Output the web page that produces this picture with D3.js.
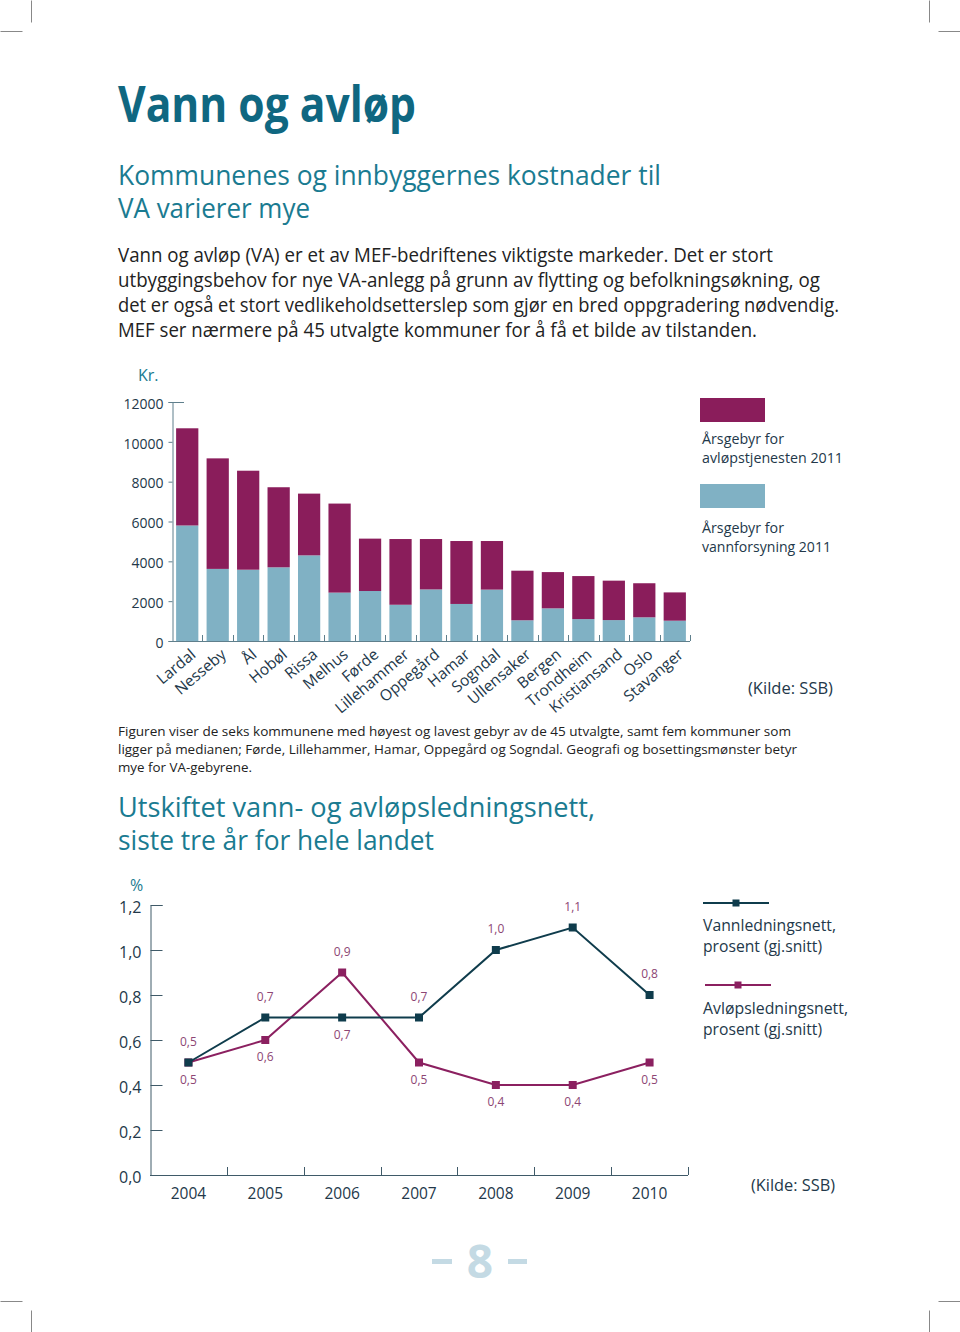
<!DOCTYPE html>
<html><head><meta charset="utf-8">
<script src="https://cdn.jsdelivr.net/npm/d3@7/dist/d3.min.js"></script>
<style>body{margin:0;background:#fff}svg{display:block}</style>
</head><body>
<svg id="page" width="960" height="1332"></svg>
<script>
// ---------- DATA ----------
const kommuner = ["Lardal","Nesseby","Ål","Hobøl","Rissa","Melhus","Førde","Lillehammer","Oppegård","Hamar","Sogndal","Ullensaker","Bergen","Trondheim","Kristiansand","Oslo","Stavanger"];
const vannforsyning = [5800,3620,3580,3700,4300,2430,2510,1820,2590,1860,2580,1040,1640,1100,1050,1190,1020];
const avlopstjenesten = [4880,5550,4970,4020,3100,4470,2630,3300,2530,3160,2440,2490,1820,2160,1980,1710,1420];
const barTicks = [0,2000,4000,6000,8000,10000,12000];

const years = ["2004","2005","2006","2007","2008","2009","2010"];
const vannledning = [0.5,0.7,0.7,0.7,1.0,1.1,0.8];
const avlopsledning = [0.5,0.6,0.9,0.5,0.4,0.4,0.5];
const lineTicks = [0,0.2,0.4,0.6,0.8,1.0,1.2];

// ---------- STYLE ----------
const FONT = "'Open Sans', 'Noto Sans', sans-serif";
const TEAL = "#0f6781", TEAL2 = "#1a7b91";
const PURPLE = "#8a1d5b", BLUE = "#80b1c4";
const DARK = "#0f3c4c", MAG = "#8b2060";
const AXIS = "#5f7f8c", TXT = "#23384a";

const svg = d3.select("#page");
svg.append("rect").attr("width",960).attr("height",1332).attr("fill","#fff");

function txt(x,y,s,o={}){
  const t = svg.append("text").attr("x",x).attr("y",y).text(s)
    .attr("font-family",o.family||FONT).attr("font-size",o.size||16)
    .attr("fill",o.fill||"#1b1b1b").attr("font-weight",o.weight||400)
    .attr("text-anchor",o.anchor||"start");
  if(o.w){ t.attr("textLength",o.w).attr("lengthAdjust","spacingAndGlyphs"); }
  return t;
}

// crop marks
const cm = svg.append("g").attr("stroke","#888").attr("stroke-width",1);
[[31,0,31,22],[0,31,22,31],[929,0,929,22],[938,31,960,31],
 [31,1310,31,1332],[0,1301,22,1301],[929,1310,929,1332],[938,1301,960,1301]]
 .forEach(d=>cm.append("line").attr("x1",d[0]+0.5).attr("y1",d[1]+0.5).attr("x2",d[2]+0.5).attr("y2",d[3]+0.5));

// ---------- TEXT ----------
txt(118,122,"Vann og avløp",{size:50,weight:700,fill:TEAL,w:298});
txt(118,185,"Kommunenes og innbyggernes kostnader til",{size:27.5,fill:TEAL2,w:543});
txt(118,218,"VA varierer mye",{size:27.5,fill:TEAL2,w:192});
const body = [
 ["Vann og avløp (VA) er et av MEF-bedriftenes viktigste markeder. Det er stort",655],
 ["utbyggingsbehov for nye VA-anlegg på grunn av flytting og befolkningsøkning, og",702],
 ["det er også et stort vedlikeholdsetterslep som gjør en bred oppgradering nødvendig.",721],
 ["MEF ser nærmere på 45 utvalgte kommuner for å få et bilde av tilstanden.",639]];
body.forEach((b,i)=>txt(118,262+i*25,b[0],{size:19.5,w:b[1],fill:"#222"}));

const cap = [
 ["Figuren viser de seks kommunene med høyest og lavest gebyr av de 45 utvalgte, samt fem kommuner som",673],
 ["ligger på medianen; Førde, Lillehammer, Hamar, Oppegård og Sogndal. Geografi og bosettingsmønster betyr",679],
 ["mye for VA-gebyrene.",134]];
cap.forEach((b,i)=>txt(118,736+i*18,b[0],{size:13.5,w:b[1],fill:"#222"}));

txt(118,817,"Utskiftet vann- og avløpsledningsnett,",{size:27.5,fill:TEAL2,w:477});
txt(118,850,"siste tre år for hele landet",{size:27.5,fill:TEAL2,w:316});

// page number
svg.append("rect").attr("x",432).attr("y",1259).attr("width",20).attr("height",5).attr("fill","#c4dae4");
svg.append("rect").attr("x",508).attr("y",1259).attr("width",19).attr("height",5).attr("fill","#c4dae4");
txt(480,1278,"8",{size:46,weight:700,fill:"#c4dae4",anchor:"middle"});

// ---------- BAR CHART ----------
const bx = d3.scaleBand().domain(kommuner).range([172,690]).paddingInner(0.27).paddingOuter(0.135);
const by = d3.scaleLinear().domain([0,12000]).range([641,402]);
const stackData = kommuner.map((k,i)=>({k, vann:vannforsyning[i], avlop:avlopstjenesten[i]}));
const series = d3.stack().keys(["vann","avlop"])(stackData);
const colors = {vann:BLUE, avlop:PURPLE};

txt(138,381,"Kr.",{size:16,fill:TEAL2});

// y axis
const gyA = svg.append("g").attr("transform","translate(172.5,0)")
  .call(d3.axisLeft(by).tickValues(barTicks).tickSize(4).tickFormat(d3.format("d")));
gyA.select(".domain").attr("stroke",AXIS);
gyA.selectAll(".tick line").attr("stroke",AXIS);
gyA.selectAll(".tick text").attr("font-family",FONT).attr("font-size",14).attr("fill",TXT).attr("x",-9).attr("dy","0.45em");
svg.append("line").attr("x1",172).attr("x2",184).attr("y1",by(12000)+0.5).attr("y2",by(12000)+0.5).attr("stroke",AXIS);

// bars
svg.append("g").selectAll("g").data(series).join("g").attr("fill",d=>colors[d.key])
  .selectAll("rect").data(d=>d).join("rect")
  .attr("x",d=>bx(d.data.k)).attr("width",bx.bandwidth())
  .attr("y",d=>by(d[1])).attr("height",d=>by(d[0])-by(d[1]));

// x axis
const stepB = bx.step();
svg.append("line").attr("x1",172).attr("x2",690).attr("y1",641.5).attr("y2",641.5).attr("stroke",AXIS);
const bounds = kommuner.map((k,i)=>172+ (i+1)*stepB);
svg.append("g").selectAll("line").data(bounds).join("line")
  .attr("x1",d=>Math.round(d)+0.5).attr("x2",d=>Math.round(d)+0.5).attr("y1",641).attr("y2",635).attr("stroke",AXIS);
svg.append("g").selectAll("text").data(kommuner).join("text")
  .attr("transform",d=>`translate(${bx(d)+bx.bandwidth()/2+6},652) rotate(-40)`)
  .attr("text-anchor","end").attr("dy","0.35em")
  .attr("font-family",FONT).attr("font-size",15.5).attr("fill",TXT).text(d=>d);

// legend
svg.append("rect").attr("x",700).attr("y",398).attr("width",65).attr("height",24).attr("fill",PURPLE);
txt(702,444,"Årsgebyr for",{size:14.5,fill:TXT,w:82});
txt(702,463,"avløpstjenesten 2011",{size:14.5,fill:TXT,w:141});
svg.append("rect").attr("x",700).attr("y",484).attr("width",65).attr("height",24).attr("fill",BLUE);
txt(702,533,"Årsgebyr for",{size:14.5,fill:TXT,w:82});
txt(702,552,"vannforsyning 2011",{size:14.5,fill:TXT,w:129});
txt(748,694,"(Kilde: SSB)",{size:15.5,fill:TXT,w:85});

// ---------- LINE CHART ----------
const lx = d3.scaleBand().domain(years).range([150,688]);
const ly = d3.scaleLinear().domain([0,1.2]).range([1175,905]);
const LAX = "#3f5a68";
const fmt = d => d3.format(".1f")(d).replace(".",",");

txt(130,891,"%",{size:16,fill:TEAL2});
const gl = svg.append("g").attr("transform","translate(150.5,0)")
  .call(d3.axisRight(ly).tickValues(lineTicks).tickSize(12).tickFormat(fmt));
gl.select(".domain").attr("stroke",LAX);
gl.selectAll(".tick line").attr("stroke",LAX);
gl.selectAll(".tick text").attr("font-family",FONT).attr("font-size",16).attr("fill",TXT)
  .attr("x",-9).attr("text-anchor","end").attr("dy","0.45em");
svg.append("line").attr("x1",150).attr("x2",688).attr("y1",1175.5).attr("y2",1175.5).attr("stroke",LAX);
svg.append("g").selectAll("line").data(years).join("line")
  .attr("x1",d=>Math.round(lx(d)+lx.bandwidth())+0.5).attr("x2",d=>Math.round(lx(d)+lx.bandwidth())+0.5)
  .attr("y1",1175).attr("y2",1167).attr("stroke",LAX);
svg.append("g").selectAll("text").data(years).join("text")
  .attr("x",d=>lx(d)+lx.bandwidth()/2).attr("y",1199).attr("text-anchor","middle")
  .attr("font-family",FONT).attr("font-size",15.5).attr("fill",TXT).text(d=>d);

const cx = d=>lx(d)+lx.bandwidth()/2;
const lineGen = d3.line().x(d=>cx(d[0])).y(d=>ly(d[1]));
function drawSeries(vals,color){
  const pts = years.map((y,i)=>[y,vals[i]]);
  svg.append("path").attr("d",lineGen(pts)).attr("fill","none").attr("stroke",color).attr("stroke-width",2);
  svg.append("g").selectAll("rect").data(pts).join("rect")
    .attr("x",d=>cx(d[0])-4).attr("y",d=>ly(d[1])-4).attr("width",8).attr("height",8).attr("fill",color);
}
drawSeries(avlopsledning,MAG);
drawSeries(vannledning,DARK);

// data labels: higher value label above, lower below
const LBL = "#8d4674";
years.forEach((y,i)=>{
  const a = vannledning[i], b = avlopsledning[i];
  const hi = Math.max(a,b), lo = Math.min(a,b);
  txt(cx(y),ly(hi)-17,fmt(hi),{size:12,fill:LBL,anchor:"middle"});
  txt(cx(y),ly(lo)+21,fmt(lo),{size:12,fill:LBL,anchor:"middle"});
});

// legend
svg.append("line").attr("x1",703).attr("x2",769).attr("y1",903).attr("y2",903).attr("stroke",DARK).attr("stroke-width",2);
svg.append("rect").attr("x",732.5).attr("y",899.5).attr("width",7).attr("height",7).attr("fill",DARK);
txt(703,931,"Vannledningsnett,",{size:16.5,fill:TXT,w:133});
txt(703,952,"prosent (gj.snitt)",{size:16.5,fill:TXT,w:119});
svg.append("line").attr("x1",705).attr("x2",771).attr("y1",985).attr("y2",985).attr("stroke",MAG).attr("stroke-width",2);
svg.append("rect").attr("x",734.5).attr("y",981.5).attr("width",7).attr("height",7).attr("fill",MAG);
txt(703,1014,"Avløpsledningsnett,",{size:16.5,fill:TXT,w:145});
txt(703,1035,"prosent (gj.snitt)",{size:16.5,fill:TXT,w:119});
txt(751,1191,"(Kilde: SSB)",{size:16,fill:TXT,w:84});
</script>
</body></html>
